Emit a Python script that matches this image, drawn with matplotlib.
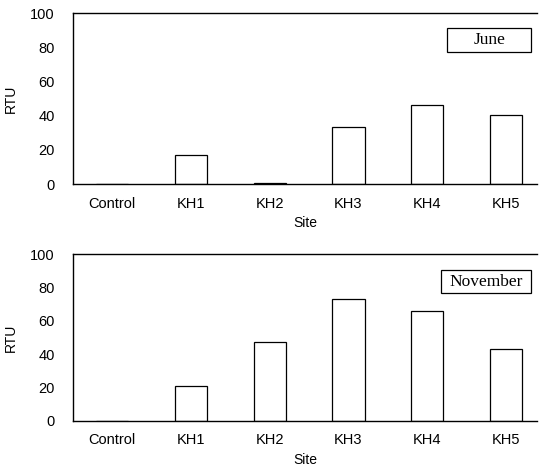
import numpy as np
import matplotlib
matplotlib.use("Agg")
import matplotlib.pyplot as plt
from matplotlib.patches import Rectangle

sites = ["Control", "KH1", "KH2", "KH3", "KH4", "KH5"]
rtu_june = [0, 17, 0.7, 33.5, 46, 40.5]
rtu_november = [0, 21, 47.5, 73, 66, 43]
yticks = [0, 20, 40, 60, 80, 100]

plt.rcParams['font.family'] = ['Liberation Sans', 'DejaVu Sans']

fig = plt.figure(figsize=(5.43, 4.66), dpi=100)
ax1 = fig.add_axes([0.1344, 0.605, 0.855, 0.367])
ax2 = fig.add_axes([0.1344, 0.0966, 0.855, 0.358])

x = np.arange(len(sites))
panels = [
    (ax1, rtu_june, "June", (0.806, 0.77, 0.181, 0.14)),
    (ax2, rtu_november, "November", (0.793, 0.766, 0.194, 0.138)),
]
for ax, vals, label, box in panels:
    ax.bar(x, vals, width=0.41, color="white", edgecolor="black", linewidth=0.9)
    ax.set_xlim(-0.5, 5.4)
    ax.set_ylim(0, 100)
    ax.set_yticks(yticks)
    ax.set_xticks(x)
    ax.set_xticklabels(sites)
    ax.tick_params(axis="both", length=0, labelsize=10.5)
    ax.tick_params(axis="y", pad=13)
    ax.tick_params(axis="x", pad=9)
    ax.spines["right"].set_visible(False)
    for s in ["left", "top", "bottom"]:
        ax.spines[s].set_linewidth(1.0)
    ax.set_ylabel("RTU", fontsize=10, labelpad=9)
    ax.set_xlabel("Site", fontsize=10, labelpad=4)
    # legend-like label box
    bx, by, bw, bh = box
    ax.add_patch(Rectangle((bx, by), bw, bh, transform=ax.transAxes, facecolor="white",
                           edgecolor="black", linewidth=0.9, clip_on=False))
    ax.text(bx + bw / 2, by + bh / 2, label, transform=ax.transAxes, ha="center", va="center",
            fontsize=12.5, family="Liberation Serif")

fig.savefig("out.png", dpi=100)
